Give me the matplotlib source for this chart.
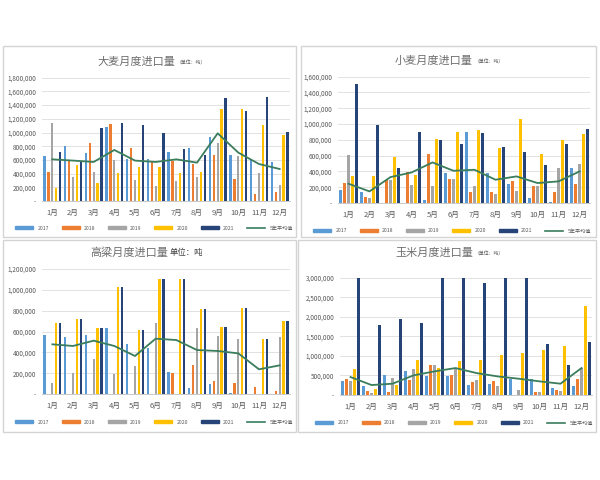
import matplotlib.pyplot as plt
from matplotlib.patches import Rectangle, Patch
from matplotlib.lines import Line2D
from matplotlib.ticker import FuncFormatter
import numpy as np

plt.rcParams['font.family'] = ['Noto Sans CJK SC', 'DejaVu Sans']

months = [f"{m}月" for m in range(1, 13)]
years = ["2017", "2018", "2019", "2020", "2021"]
avg_label = "5年平均值"
colors = ["#5B9BD5", "#ED7D31", "#A5A5A5", "#FFC000", "#264478"]
line_color = "#3A7D5C"

# 大麦 (吨)
barley_2017 = [662e3, 803e3, 700e3, 1085e3, 620e3, 620e3, 710e3, 770e3, 940e3, 667e3, 600e3, 575e3]
barley_2018 = [428e3, 600e3, 852e3, 1120e3, 769e3, 574e3, 590e3, 540e3, 672e3, 321e3, 102e3, 127e3]
barley_2019 = [1134e3, 345e3, 418e3, 600e3, 306e3, 224e3, 287e3, 355e3, 852e3, 662e3, 404e3, 234e3]
barley_2020 = [195e3, 530e3, 263e3, 404e3, 500e3, 490e3, 404e3, 428e3, 1343e3, 1343e3, 1110e3, 963e3]
barley_2021 = [720e3, 575e3, 1070e3, 1143e3, 1110e3, 998e3, 764e3, 676e3, 1508e3, 1319e3, 1523e3, 1012e3]
barley_avg = [608e3, 590e3, 570e3, 745e3, 590e3, 570e3, 608e3, 560e3, 988e3, 706e3, 540e3, 467e3]

# 小麦
wheat_2017 = [160e3, 139e3, 5e3, 0, 42e3, 379e3, 905e3, 379e3, 244e3, 67e3, 8e3, 442e3]
wheat_2018 = [253e3, 76e3, 286e3, 392e3, 623e3, 303e3, 135e3, 135e3, 274e3, 219e3, 135e3, 240e3]
wheat_2019 = [610e3, 63e3, 295e3, 223e3, 210e3, 303e3, 210e3, 118e3, 147e3, 219e3, 442e3, 497e3]
wheat_2020 = [345e3, 337e3, 589e3, 358e3, 808e3, 905e3, 926e3, 695e3, 1065e3, 623e3, 800e3, 876e3]
wheat_2021 = [1503e3, 989e3, 442e3, 905e3, 792e3, 749e3, 884e3, 707e3, 640e3, 476e3, 749e3, 939e3]
wheat_avg = [244e3, 147e3, 328e3, 387e3, 514e3, 408e3, 421e3, 295e3, 337e3, 253e3, 274e3, 400e3]

# 高粱
sorghum_2017 = [566e3, 550e3, 566e3, 637e3, 477e3, 445e3, 214e3, 54e3, 93e3, 13e3, 0, 0]
sorghum_2018 = [0, 0, 0, 0, 0, 0, 205e3, 278e3, 125e3, 109e3, 64e3, 32e3]
sorghum_2019 = [109e3, 198e3, 333e3, 192e3, 269e3, 685e3, 0, 637e3, 560e3, 528e3, 0, 544e3]
sorghum_2020 = [685e3, 717e3, 637e3, 1030e3, 614e3, 1101e3, 1101e3, 813e3, 646e3, 822e3, 528e3, 704e3]
sorghum_2021 = [685e3, 717e3, 637e3, 1030e3, 614e3, 1101e3, 1101e3, 813e3, 646e3, 822e3, 528e3, 704e3]
sorghum_avg = [477e3, 461e3, 512e3, 461e3, 365e3, 531e3, 518e3, 422e3, 413e3, 390e3, 237e3, 275e3]

# 玉米
corn_2017 = [349e3, 238e3, 519e3, 604e3, 476e3, 476e3, 247e3, 289e3, 408e3, 408e3, 179e3, 221e3]
corn_2018 = [408e3, 94e3, 68e3, 391e3, 757e3, 519e3, 332e3, 349e3, 10e3, 77e3, 136e3, 408e3]
corn_2019 = [349e3, 51e3, 434e3, 663e3, 757e3, 689e3, 391e3, 238e3, 136e3, 85e3, 110e3, 689e3]
corn_2020 = [663e3, 153e3, 264e3, 884e3, 689e3, 876e3, 901e3, 1012e3, 1071e3, 1156e3, 1241e3, 2278e3]
corn_2021 = [3027e3, 1794e3, 1947e3, 1854e3, 3171e3, 3214e3, 2874e3, 3214e3, 3214e3, 1310e3, 774e3, 1343e3]
corn_avg = [459e3, 255e3, 289e3, 502e3, 604e3, 689e3, 561e3, 476e3, 417e3, 349e3, 289e3, 689e3]

W, H = 600, 480
fig = plt.figure(figsize=(6, 4.8), dpi=100)


def px(x0, y0, x1, y1):
    return [x0 / W, 1 - y1 / H, (x1 - x0) / W, (y1 - y0) / H]


def fmt(v, pos):
    return "-" if v == 0 else f"{v:,.0f}"


panels = [
    dict(title="大麦月度进口量", unit="（单位：吨）", unit_big=False,
         series=[barley_2017, barley_2018, barley_2019, barley_2020, barley_2021], avg=barley_avg,
         frame=(3, 46, 296, 237), ax=(42, 77.7, 290, 201), ymax=1.8e6, step=2e5,
         title_xy=(97, 62), legend_y=228),
    dict(title="小麦月度进口量", unit="（单位：吨）", unit_big=False,
         series=[wheat_2017, wheat_2018, wheat_2019, wheat_2020, wheat_2021], avg=wheat_avg,
         frame=(301, 46, 596, 237), ax=(338, 76.7, 590, 203), ymax=1.6e6, step=2e5,
         title_xy=(395, 61), legend_y=231),
    dict(title="高粱月度进口量", unit="单位：吨", unit_big=True,
         series=[sorghum_2017, sorghum_2018, sorghum_2019, sorghum_2020, sorghum_2021], avg=sorghum_avg,
         frame=(3, 240, 296, 432), ax=(42, 269, 290, 394), ymax=1.2e6, step=2e5,
         title_xy=(90, 253), legend_y=422),
    dict(title="玉米月度进口量", unit="（单位：吨）", unit_big=False,
         series=[corn_2017, corn_2018, corn_2019, corn_2020, corn_2021], avg=corn_avg,
         frame=(298, 240, 596, 432), ax=(340, 277.7, 592, 395), ymax=3.0e6, step=5e5,
         title_xy=(395, 253), legend_y=423),
]

x = np.arange(12)
bw = 0.11
gap = 0.19

for p in panels:
    fx0, fy0, fx1, fy1 = p["frame"]
    fig.patches.append(Rectangle((fx0 / W, 1 - fy1 / H), (fx1 - fx0) / W, (fy1 - fy0) / H,
                                 transform=fig.transFigure, fill=False,
                                 edgecolor="#D4D4D4", lw=1.0))
    ax = fig.add_axes(px(*p["ax"]))
    for i, vals in enumerate(p["series"]):
        ax.bar(x + (i - 2) * gap, vals, width=bw, color=colors[i], zorder=3)
    ax.plot(x, p["avg"], color=line_color, lw=1.3, zorder=4)
    ax.set_xlim(-0.5, 11.5)
    ax.set_ylim(0, p["ymax"])
    ax.set_yticks(np.arange(0, p["ymax"] + 1, p["step"]))
    ax.yaxis.set_major_formatter(FuncFormatter(fmt))
    ax.set_xticks(x)
    ax.set_xticklabels(months)
    ax.tick_params(axis="y", length=0, labelsize=4.6, labelcolor="#595959", pad=4)
    ax.tick_params(axis="x", length=0, labelsize=5.5, labelcolor="#595959", pad=6)
    ax.grid(axis="y", color="#DDDDDD", lw=0.6, zorder=0)
    for s in ["top", "right", "left"]:
        ax.spines[s].set_visible(False)
    ax.spines["bottom"].set_color("#BFBFBF")
    ax.spines["bottom"].set_linewidth(0.6)

    tx, ty = p["title_xy"]
    t = fig.text(tx / W, 1 - ty / H, p["title"], fontsize=8, color="#6E6E6E",
                 va="center", ha="left")
    fig.canvas.draw()
    bb = t.get_window_extent()
    ux = bb.x1 / fig.bbox.width + 0.003
    if p["unit_big"]:
        fig.text(ux, 1 - ty / H, p["unit"], fontsize=6, color="#404040", va="center", ha="left")
    else:
        fig.text(ux, 1 - (ty + 1) / H, p["unit"], fontsize=3.5, color="#595959", va="center", ha="left")

    handles = [Patch(color=c) for c in colors] + [Line2D([], [], color=line_color, lw=1.2)]
    ax0, _, ax1, _ = p["ax"]
    fig.legend(handles, years + [avg_label], loc="center",
               bbox_to_anchor=(((ax0 + ax1) / 2 - 12) / W, 1 - p["legend_y"] / H),
               ncol=6, frameon=False, fontsize=3.7, handlelength=3.5, handleheight=0.35,
               columnspacing=2.5, handletextpad=0.8, labelcolor="#595959")

fig.savefig("out.png", dpi=100, facecolor="white")
